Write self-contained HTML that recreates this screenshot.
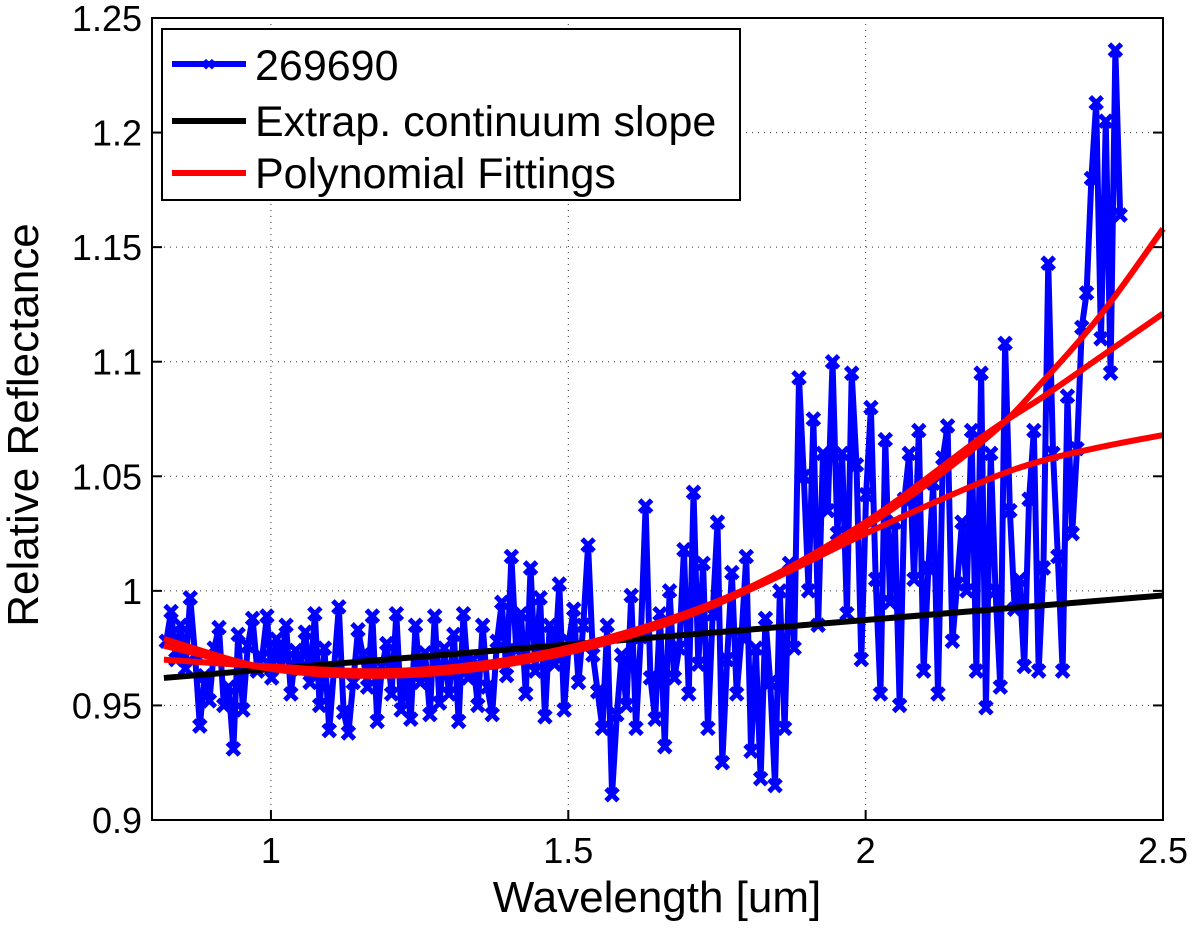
<!DOCTYPE html>
<html><head><meta charset="utf-8"><style>
body{margin:0;background:#fff;}
svg text{font-family:"Liberation Sans",sans-serif;}
</style></head><body>
<svg id="chart" width="1200" height="924" xmlns="http://www.w3.org/2000/svg">
<rect width="1200" height="924" fill="#fff"/>
<g id="grid"></g>
<g id="plot"></g>
<g id="axes"></g>
<text x="38" y="425" font-size="44" text-anchor="middle" transform="rotate(-90 38 425)">Relative Reflectance</text>
<text x="657" y="912" font-size="44" text-anchor="middle">Wavelength [um]</text>
<g>
<rect x="162" y="29" width="578" height="171" fill="#fff" stroke="#000" stroke-width="2"/>
<g><line x1="172" y1="64" x2="246" y2="64" stroke="#0000ff" stroke-width="6"/><text x="209" y="70" font-size="16" fill="#0000ff" text-anchor="middle">✖</text><text x="255" y="80" font-size="43">269690</text></g>
<g><line x1="172" y1="121" x2="246" y2="121" stroke="#000" stroke-width="6"/><text x="255" y="136" font-size="43">Extrap. continuum slope</text></g>
<g><line x1="172" y1="173" x2="246" y2="173" stroke="#ff0000" stroke-width="6"/><text x="255" y="188" font-size="43">Polynomial Fittings</text></g>
</g>
</svg>
<script>
const xTicks=[1,1.5,2,2.5];
const yTicks=[0.9,0.95,1,1.05,1.1,1.15,1.2,1.25];
const yTickLabels=["0.9","0.95","1","1.05","1.1","1.15","1.2","1.25"];
const xTickLabels=["1","1.5","2","2.5"];
const specStart=0.824, specStep=0.00806;
const spectrum=[.978,.991,.970,.985,.966,.997,.972,.941,.963,.952,
.975,.984,.950,.958,.931,.981,.948,.976,.988,.965,
.971,.989,.962,.979,.968,.985,.955,.974,.966,.982,
.960,.990,.950,.975,.939,.966,.993,.947,.938,.960,
.983,.972,.958,.989,.943,.967,.977,.955,.990,.948,
.962,.944,.985,.960,.973,.946,.989,.951,.975,.955,
.981,.943,.990,.962,.970,.950,.985,.958,.946,.978,
.995,.963,1.015,.974,.990,.955,1.010,.965,.997,.945,
.985,.968,1.003,.948,.978,.992,.960,.985,1.020,.972,
.956,.940,.985,.911,.946,.972,.950,.998,.940,.980,
1.037,.962,.944,.990,.932,1.000,.962,.975,1.018,.955,
1.043,.968,1.012,.940,.990,1.030,.925,.970,1.008,.955,
.980,1.015,.930,.975,.918,.988,.960,.915,1.000,.940,
1.012,.975,1.093,1.050,1.000,1.075,.985,1.060,1.035,1.100,
1.025,1.060,.990,1.095,1.055,.970,1.042,1.080,1.005,.955,
1.066,.995,1.030,.950,1.040,1.060,1.005,1.070,.965,1.010,
1.047,.955,1.058,1.072,.978,1.003,1.030,1.000,1.070,.965,
1.095,.949,1.060,1.000,.958,1.108,1.035,.992,1.005,.967,
1.040,1.070,.965,1.010,1.143,1.060,1.015,.965,1.085,1.025,
1.062,1.115,1.130,1.180,1.213,1.110,1.205,1.095,1.236,1.164];
const contX=[0.82,2.5];
const contY=[0.962,0.998];
const fitX=[0.82,1.0,1.2,1.4,1.6,1.8,2.0,2.2,2.3,2.4,2.5];
const fit1=[.979,.966,.963,.968,.980,1.000,1.028,1.066,1.092,1.122,1.158];
const fit2=[.976,.966,.964,.970,.982,1.001,1.030,1.068,1.085,1.103,1.121];
const fit3=[.970,.967,.965,.970,.982,1.000,1.025,1.048,1.057,1.063,1.068];

const L=152,R=1163,T=18,B=820,x0=0.8,x1=2.5,y0=0.9,y1=1.25;
const sx=v=>L+(v-x0)/(x1-x0)*(R-L);
const sy=v=>B-(v-y0)/(y1-y0)*(B-T);
const NS="http://www.w3.org/2000/svg";
function mk(tag,attrs,parent){const e=document.createElementNS(NS,tag);for(const k in attrs)e.setAttribute(k,attrs[k]);parent.appendChild(e);return e;}
const grid=document.getElementById('grid'),plot=document.getElementById('plot'),axes=document.getElementById('axes');
xTicks.forEach((t,i)=>{
  if(t<x1){const g=mk('line',{x1:sx(t),x2:sx(t),y1:T,y2:B,stroke:'#333','stroke-width':1,'stroke-dasharray':'1 5'},grid);
  
  }
  const tk=mk('line',{x1:sx(t),x2:sx(t),y1:B,y2:B-10,stroke:'#000','stroke-width':2},axes);
  
  
  const lb=mk('text',{x:sx(t),y:B+43,'font-size':36,'text-anchor':'middle'},axes);lb.textContent=xTickLabels[i];
  
  
});
yTicks.forEach((t,i)=>{
  if(t>y0&&t<y1){const g=mk('line',{x1:L,x2:R,y1:sy(t),y2:sy(t),stroke:'#333','stroke-width':1,'stroke-dasharray':'1 5'},grid);
  
  }
  const tk=mk('line',{x1:L,x2:L+10,y1:sy(t),y2:sy(t),stroke:'#000','stroke-width':2},axes);
  
  
  const tk2=mk('line',{x1:R,x2:R-10,y1:sy(t),y2:sy(t),stroke:'#000','stroke-width':2},axes);
  
  
  const lb=mk('text',{x:L-10,y:sy(t)+13,'font-size':36,'text-anchor':'end'},axes);lb.textContent=yTickLabels[i];
  
  
});
const frame=mk('rect',{x:L,y:T,width:R-L,height:B-T,fill:'none',stroke:'#000','stroke-width':2},axes);


const pts=spectrum.map((v,i)=>sx(specStart+i*specStep)+','+sy(v)).join(' ');
const sl=mk('polyline',{points:pts,fill:'none',stroke:'#0000ff','stroke-width':6,'stroke-linejoin':'round'},plot);


spectrum.forEach((v,i)=>{
  const cx=sx(specStart+i*specStep),cy=sy(v),d=6;
  const m=mk('path',{d:`M${cx-d},${cy-d}L${cx+d},${cy+d}M${cx-d},${cy+d}L${cx+d},${cy-d}`,stroke:'#0000ff','stroke-width':5},plot);
  
  
});
const cl=mk('line',{x1:sx(contX[0]),y1:sy(contY[0]),x2:sx(contX[1]),y2:sy(contY[1]),stroke:'#000','stroke-width':6},plot);


function smooth(xs,ys){const p=xs.map((x,i)=>[sx(x),sy(ys[i])]);let d=`M${p[0][0]},${p[0][1]}`;
  for(let i=0;i<p.length-1;i++){const a=p[i-1]||p[i],b=p[i],c=p[i+1],e=p[i+2]||c;
  d+=`C${b[0]+(c[0]-a[0])/6},${b[1]+(c[1]-a[1])/6} ${c[0]-(e[0]-b[0])/6},${c[1]-(e[1]-b[1])/6} ${c[0]},${c[1]}`;}return d;}
[fit1,fit2,fit3].forEach((f,k)=>{
  const p=mk('path',{d:smooth(fitX,f),fill:'none',stroke:'#ff0000','stroke-width':6},plot);
  
  
});
</script>
</body></html>
